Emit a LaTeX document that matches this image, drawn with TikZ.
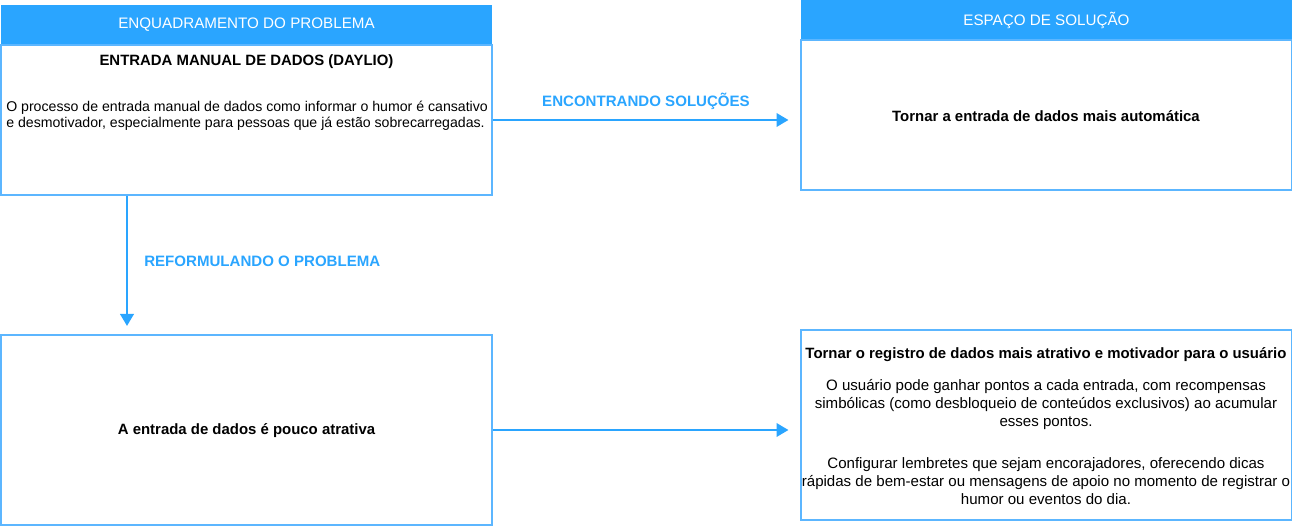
\documentclass[tikz,border=0pt]{standalone}
\usepackage{fontspec}
\setmainfont{Liberation Sans}
\usetikzlibrary{arrows.meta,positioning}
\definecolor{hdrblue}{RGB}{42,165,255}
\definecolor{lineblue}{RGB}{92,182,255}

\tikzset{
  hdr/.style={rectangle, fill=hdrblue, text=white, inner sep=0pt,
    minimum width=368.25pt, minimum height=30pt, font=\fontsize{11.4}{13}\selectfont},
  box/.style={rectangle, draw=lineblue, line width=1.5pt, fill=white, inner sep=0pt,
    minimum width=368.25pt},
  bodytxt/.style={inner sep=0pt, font=\fontsize{10.6}{11.8}\selectfont},
  boldtxt/.style={inner sep=0pt, font=\bfseries\fontsize{11.2}{13}\selectfont},
  steplbl/.style={inner sep=0pt, text=hdrblue, font=\bfseries\fontsize{11.3}{13}\selectfont},
  flow/.style={draw=hdrblue, line width=2pt, -{Triangle[length=9pt,width=10pt]}}
}

\begin{document}
\begin{tikzpicture}[x=0.75pt, y=-0.75pt]
        \useasboundingbox (0,0) rectangle (1292,527);
        % problem side
        \draw (246.5,25)  node[hdr] (hdrL) {ENQUADRAMENTO DO PROBLEMA};
        \draw (246.5,120) node[box, minimum height=112.5pt] (boxL) {};
        \draw (246.5,430) node[box, minimum height=142.5pt] (boxBL) {};
        % solution side
        \draw (1046.5,20) node[hdr] (hdrR) {ESPAÇO DE SOLUÇÃO};
        \draw (1046,115)  node[box, minimum height=112.5pt] (boxR) {};
        \draw (1046,425)  node[box, minimum height=142.5pt] (boxBR) {};
        % texts
        \node[boldtxt] (titL) at (246.5,62) {ENTRADA MANUAL DE DADOS (DAYLIO)};
        \node[bodytxt, anchor=west, align=left] (parL) at (6,116)
              {O processo de entrada manual de dados como informar o humor é cansativo\\
               e desmotivador, especialmente para pessoas que já estão sobrecarregadas.};
        \node[boldtxt] (txtR) at (1046,116) {Tornar a entrada de dados mais automática};
        \node[boldtxt] (txtBL) at (246.5,431) {A entrada de dados é pouco atrativa};
        \node[boldtxt] (titBR) at (1046,355)
              {Tornar o registro de dados mais atrativo e motivador para o usuário};
        \node[bodytxt, align=center, font=\fontsize{11.3}{13.5}\selectfont] (parBR1) at (1046,405)
              {O usuário pode ganhar pontos a cada entrada, com recompensas\\
               simbólicas (como desbloqueio de conteúdos exclusivos) ao acumular\\
               esses pontos.};
        \node[bodytxt, align=center, font=\fontsize{11.3}{13.5}\selectfont] (parBR2) at (1046,481)
              {Configurar lembretes que sejam encorajadores, oferecendo dicas\\
               rápidas de bem-estar ou mensagens de apoio no momento de registrar o\\
               humor ou eventos do dia.};
        % connectors
        \coordinate (vx) at (127,0);
        \draw[flow, shorten >=8.25pt] (boxL.east) -- (boxL.east -| boxR.west);
        \draw[flow, shorten >=8.25pt] (boxBL.east) -- (boxBL.east -| boxBR.west);
        \draw[flow, shorten >=6pt] (vx |- boxL.south) -- (vx |- boxBL.north);
        \node[steplbl] (lblH) at (646,101) {ENCONTRANDO SOLUÇÕES};
        \node[steplbl, anchor=west] (lblV) at (144,261) {REFORMULANDO O PROBLEMA};
    \end{tikzpicture}
\end{document}
